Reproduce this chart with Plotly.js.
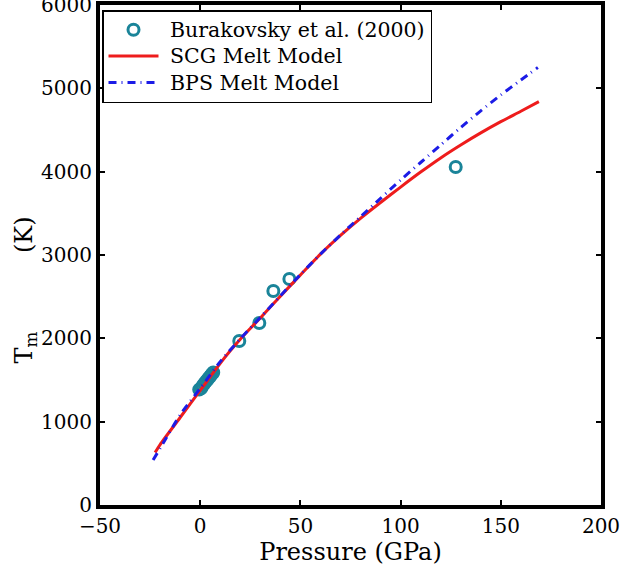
<!DOCTYPE html>
<html>
<head>
<meta charset="utf-8">
<script src="https://cdn.plot.ly/plotly-3.0.1.min.js"></script>
<style>html,body{margin:0;padding:0;background:#fff;}#chart{width:622px;height:567px;}</style>
</head>
<body>
<div id="chart"></div>
<script>
// Burakovsky et al. (2000) data
const expP = [-0.5, 0.5, 1.2, 2, 2.8, 3.5, 4.3, 5, 5.8, 6.5, 19.5, 29.5, 36.5, 44.5, 127.5];
const expT = [1385, 1400, 1430, 1455, 1480, 1500, 1525, 1545, 1570, 1590, 1968, 2184, 2568, 2712, 4056];

// SCG melt model
const scgP = [-22.5, -20, -10, 0, 10, 15, 20, 30, 40, 50, 60, 70, 80, 90, 100, 110, 120, 130, 140, 150, 160, 169];
const scgT = [630, 725, 1050, 1375, 1700, 1850, 1990, 2245, 2505, 2760, 3010, 3235, 3440, 3630, 3815, 3995, 4165, 4320, 4465, 4600, 4725, 4840];

// BPS melt model
const bpsP = [-23.5, -20, -10, 0, 10, 20, 30, 40, 50, 60, 70, 80, 90, 100, 110, 120, 130, 140, 150, 160, 168.5];
const bpsT = [540, 680, 1080, 1400, 1720, 1995, 2250, 2510, 2765, 3010, 3240, 3460, 3680, 3900, 4110, 4320, 4530, 4730, 4920, 5100, 5250];

const seriesNames = ['Burakovsky et al. (2000)', 'SCG Melt Model', 'BPS Melt Model'];
const xTicks = [-50, 0, 50, 100, 150, 200];
const yTicks = [0, 1000, 2000, 3000, 4000, 5000, 6000];

const FONT = 'DejaVu Serif';
const big = s => '<span style="font-size:20.5px">\u00a0' + s + '</span>';

const traces = [
  {x: expP, y: expT, type: 'scatter', mode: 'markers', name: big(seriesNames[0]),
   marker: {symbol: 'circle-open', size: 11, color: '#1a8499', line: {width: 3, color: '#1a8499'}}},
  {x: scgP, y: scgT, type: 'scatter', mode: 'lines', name: big(seriesNames[1]),
   line: {color: '#ee1c1c', width: 3, shape: 'spline', smoothing: 0.8}},
  {x: bpsP, y: bpsT, type: 'scatter', mode: 'lines', name: big(seriesNames[2]),
   line: {color: '#1c1ce6', width: 3, dash: '8px,5px,1px,5px', shape: 'spline', smoothing: 0.8}}
];

const axisCommon = {
  showgrid: false, zeroline: false, showline: true, linecolor: '#000', linewidth: 4,
  mirror: 'ticks', ticks: 'inside', ticklen: 5, tickwidth: 2, tickcolor: '#000',
  tickfont: {family: FONT, size: 20, color: '#000'}
};

const layout = {
  width: 622, height: 567,
  margin: {l: 100, r: 21, t: 5, b: 62},
  paper_bgcolor: '#fff', plot_bgcolor: '#fff',
  showlegend: true,
  legend: {x: 0.004, y: 0.99, xanchor: 'left', yanchor: 'top', itemwidth: 50,
    bgcolor: '#fff', bordercolor: '#000', borderwidth: 1.5,
    font: {family: FONT, size: 18, color: '#000'}, tracegroupgap: 0},
  xaxis: Object.assign({}, axisCommon, {
    range: [-50, 200], tickvals: xTicks, ticktext: xTicks.map(v => v < 0 ? '\u2212' + Math.abs(v) : String(v)),
    title: {text: 'Pressure (GPa)', font: {family: FONT, size: 24, color: '#000'}, standoff: 0}
  }),
  yaxis: Object.assign({}, axisCommon, {
    range: [0, 6000], tickvals: yTicks, ticktext: yTicks.map(String)
  }),
  annotations: [
    {xref: 'paper', yref: 'y', x: 0, y: yTicks[yTicks.length - 1], xanchor: 'right', yanchor: 'middle',
     xshift: -6, showarrow: false, text: String(yTicks[yTicks.length - 1]),
     font: {family: FONT, size: 20, color: '#000'}},
    {xref: 'paper', yref: 'paper', x: 0, y: 0.315, xanchor: 'center', yanchor: 'middle',
     xshift: -75, showarrow: false, textangle: -90, text: 'T<sub>m</sub>',
     font: {family: FONT, size: 24, color: '#000'}},
    {xref: 'paper', yref: 'paper', x: 0, y: 0.54, xanchor: 'center', yanchor: 'middle',
     xshift: -76, showarrow: false, textangle: -90, text: '(K)',
     font: {family: FONT, size: 24, color: '#000'}}
  ]
};

Plotly.newPlot('chart', traces, layout, {displayModeBar: false, staticPlot: true});
</script>
</body>
</html>
